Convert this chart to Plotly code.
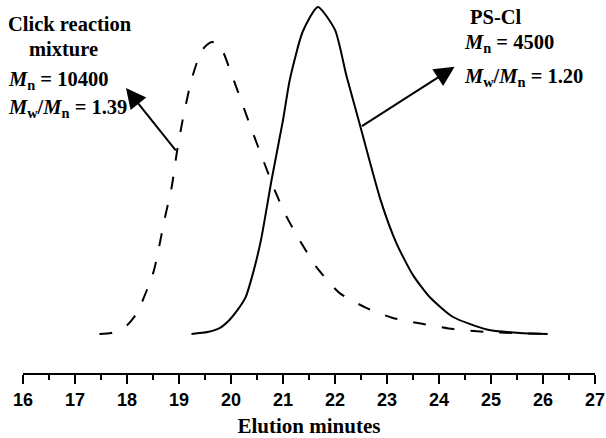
import plotly.graph_objects as go

# ---- data ----
solid_x = [19.24, 19.55, 19.78, 19.97, 20.12, 20.28, 20.43, 20.58, 20.78, 21.00,
           21.13, 21.38, 21.67, 22.00, 22.22, 22.49, 22.88, 23.18, 23.50, 23.82,
           24.27, 24.92, 25.55, 26.09]
solid_y = [0.0, 0.006, 0.018, 0.043, 0.072, 0.112, 0.19, 0.29, 0.471, 0.654,
           0.777, 0.925, 1.0, 0.93, 0.79, 0.633, 0.408, 0.278, 0.18, 0.113,
           0.052, 0.014, 0.003, 0.0]

dash_x = [17.47, 17.70, 18.00, 18.19, 18.51, 18.72, 18.86, 18.96, 19.07, 19.24,
          19.44, 19.63, 19.78, 20.03, 20.39, 20.63, 20.84, 21.07, 21.32, 21.64,
          22.09, 22.60, 23.11, 23.65, 24.27, 24.92, 26.09]
dash_y = [0.0, 0.003, 0.027, 0.064, 0.19, 0.349, 0.45, 0.557, 0.654, 0.777,
          0.868, 0.893, 0.884, 0.786, 0.628, 0.527, 0.44, 0.358, 0.287, 0.205,
          0.125, 0.08, 0.049, 0.032, 0.015, 0.006, 0.0]

x_ticks = list(range(16, 28))
x_title = "Elution minutes"

left_label = ["Click reaction", "mixture",
              "<i>M</i><sub>n</sub> = 10400",
              "<i>M</i><sub>w</sub>/<i>M</i><sub>n</sub> = 1.39"]
right_label = ["PS-Cl",
               "<i>M</i><sub>n</sub> = 4500",
               "<i>M</i><sub>w</sub>/<i>M</i><sub>n</sub> = 1.20"]

# arrows: (head_x, head_y, tail_x, tail_y) in data units
arrow_dash = (17.98, 0.752, 18.96, 0.557)
arrow_solid = (24.30, 0.817, 22.49, 0.633)

# ---- layout geometry ----
W, H = 606, 438
L, R, T, B = 23, 11, 0, 65
PW, PH = W - L - R, H - T - B


def px(x):
    return (x - L) / PW


def py(y):
    return 1 - (y - T) / PH


serif = "Liberation Serif"
sans = "Liberation Sans"

fig = go.Figure()
fig.add_trace(go.Scatter(x=dash_x, y=dash_y, mode="lines",
                         line=dict(color="black", width=2, dash="13px,16px",
                                   shape="spline", smoothing=0.6),
                         hoverinfo="skip", showlegend=False))
fig.add_trace(go.Scatter(x=solid_x, y=solid_y, mode="lines",
                         line=dict(color="black", width=2,
                                   shape="spline", smoothing=0.6),
                         hoverinfo="skip", showlegend=False))

annots = []
fnt = dict(family=serif, size=20.5, color="black", weight="bold")
# left block
annots.append(dict(text=left_label[0], x=px(70), y=py(24), xanchor="center", yanchor="middle"))
annots.append(dict(text=left_label[1], x=px(63), y=py(49), xanchor="center", yanchor="middle"))
annots.append(dict(text=left_label[2], x=px(6), y=py(80), xanchor="left", yanchor="middle"))
annots.append(dict(text=left_label[3], x=px(6), y=py(109), xanchor="left", yanchor="middle"))
# right block
annots.append(dict(text=right_label[0], x=px(496), y=py(17), xanchor="center", yanchor="middle"))
annots.append(dict(text=right_label[1], x=px(462), y=py(44), xanchor="left", yanchor="middle"))
annots.append(dict(text=right_label[2], x=px(462), y=py(77), xanchor="left", yanchor="middle"))
for a in annots:
    a.update(xref="paper", yref="paper", showarrow=False, font=fnt)

for hx, hy, tx, ty in (arrow_dash, arrow_solid):
    annots.append(dict(text="", x=hx, y=hy, ax=tx, ay=ty, xref="x", yref="y",
                       axref="x", ayref="y", showarrow=True, arrowhead=2,
                       arrowsize=2.0, arrowwidth=2, arrowcolor="black",
                       standoff=0, startstandoff=0))

# y mapping: baseline (0) at pixel 334, solid peak (1) at pixel 7 within plot of height PH
y0_px, y1_px = 334, 7
scale = (y0_px - y1_px)
ymin = -(T + PH - y0_px) / scale
ymax = (y0_px - T) / scale

fig.update_layout(
    width=W, height=H,
    margin=dict(l=L, r=R, t=T, b=B),
    paper_bgcolor="white", plot_bgcolor="white",
    annotations=annots,
    xaxis=dict(range=[16, 27], tickvals=x_ticks, ticktext=[str(v) for v in x_ticks],
               showline=True, linecolor="black", linewidth=2,
               ticks="outside", ticklen=9, tickwidth=2, tickcolor="black",
               showgrid=False, zeroline=False,
               tickfont=dict(family=sans, size=18, color="black", weight="bold"),
               minor=dict(dtick=0.5, tick0=16, ticks="outside", ticklen=5,
                          tickwidth=2, tickcolor="black", showgrid=False),
               title=dict(text=x_title, standoff=10,
                          font=dict(family=serif, size=21, color="black", weight="bold"))),
    yaxis=dict(range=[ymin, ymax], visible=False, showgrid=False, zeroline=False),
)

fig.write_html("out.html")
